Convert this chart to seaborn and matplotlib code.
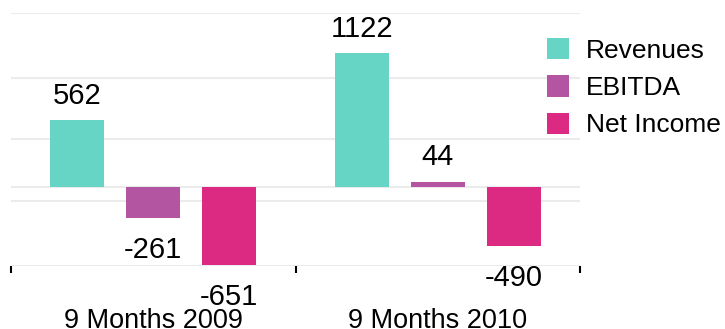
import matplotlib
matplotlib.use("Agg")
import matplotlib.pyplot as plt
import seaborn as sns
import pandas as pd
import numpy as np

# data
periods = ["9 Months 2009", "9 Months 2010"]
metrics = ["Revenues", "EBITDA", "Net Income"]
revenues = [562, 1122]
ebitda = [-261, 44]
net_income = [-651, -490]
colors = ["#66d5c5", "#b455a1", "#dc2a83"]

df = pd.DataFrame({
    "period": periods * 3,
    "metric": np.repeat(metrics, 2),
    "value": revenues + ebitda + net_income,
})

sns.set_style("white")
plt.rcParams["font.family"] = ["Liberation Sans", "DejaVu Sans"]
plt.rcParams["text.color"] = "black"
plt.rcParams["xtick.color"] = "black"
plt.rcParams["xtick.labelcolor"] = "black"

fig = plt.figure(figsize=(7.25, 3.29), dpi=100)
ax = fig.add_axes([11 / 725, 63 / 329, 569 / 725, 253 / 329])

sns.barplot(data=df, x="period", y="value", hue="metric", palette=colors,
            width=0.8, gap=0.29, saturation=1, linewidth=0, errorbar=None, ax=ax)

# value labels above / below each bar
for cont in ax.containers:
    for bar in cont:
        v = bar.get_y() + bar.get_height()
        x = bar.get_x() + bar.get_width() / 2
        if v >= 0:
            ax.annotate(f"{v:.0f}", (x, v), xytext=(0, 12), textcoords="offset points",
                        ha="center", va="baseline", fontsize=21)
        else:
            ax.annotate(f"{v:.0f}", (x, v), xytext=(0, -13), textcoords="offset points",
                        ha="center", va="top", fontsize=21)

ax.set_xlim(-0.5, 1.5)
ax.set_ylim(-660, 1460)
ax.set_yticks([-660, -117, 0, 408, 917, 1460])
ax.set_yticklabels([])
ax.yaxis.grid(True, color="#ebebeb", linewidth=1.5)
ax.set_axisbelow(True)
ax.tick_params(axis="y", length=0)

ax.set_xticks([-0.5, 0.5, 1.5], minor=True)
ax.tick_params(axis="x", which="minor", bottom=True, length=5, width=1.5,
               color="black", direction="out")
ax.tick_params(axis="x", which="major", length=0, pad=30, labelsize=19.5)
ax.set_xlabel("")
ax.set_ylabel("")
sns.despine(ax=ax, left=True, bottom=True)

handles, labels = ax.get_legend_handles_labels()
ax.legend(handles, labels, loc="upper left", bbox_to_anchor=(547 / 725, 0.884),
          bbox_transform=fig.transFigure, frameon=False, fontsize=19,
          handlelength=0.85, handleheight=0.85, handletextpad=0.62,
          labelspacing=0.48, borderpad=0, borderaxespad=0)

fig.savefig("out.png", dpi=100)
